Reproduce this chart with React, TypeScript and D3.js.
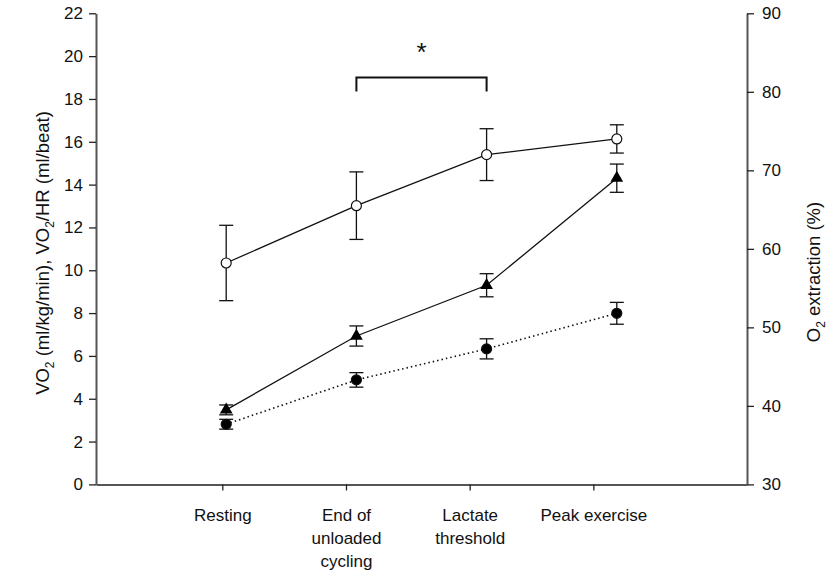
import React, { useRef, useEffect } from "react";
import * as d3 from "d3";

// Categories (x) and the SigmaPlot-style tick offsets used for their labels
const categories = [["Resting"], ["End of", "unloaded", "cycling"], ["Lactate", "threshold"], ["Peak exercise"]];
const categoryPos = [1, 2, 3, 4];
const tickPos = [0.97, 1.92, 2.87, 3.82];

// VO2 (ml/kg/min) - filled triangles, left axis
const vo2 = [3.48, 6.93, 9.3, 14.3];
const vo2Err = [0.23, 0.47, 0.54, 0.66];

// VO2/HR (ml/beat) - filled circles, dotted line, left axis
const vo2hr = [2.81, 4.88, 6.33, 7.99];
const vo2hrErr = [0.23, 0.34, 0.47, 0.51];

// O2 extraction (%) - open circles, right axis
const o2ext = [58.2, 65.5, 72.0, 74.0];
const o2extErr = [4.8, 4.3, 3.3, 1.8];

// Tick labels
const leftTicks = [0, 2, 4, 6, 8, 10, 12, 14, 16, 18, 20, 22];
const rightTicks = [30, 40, 50, 60, 70, 80, 90];

// Significance bracket between End of unloaded cycling and Lactate threshold
const bracketIdx = [1, 2];
const bracketTop = 19.0;
const bracketFoot = 18.35;

const W = 828, H = 581;
const FONT = "'Liberation Sans', Arial, sans-serif";

const App = () => {
  const svgRef = useRef(null);

  useEffect(() => {
    const svg = d3.select(svgRef.current);
    svg.selectAll("*").remove();

    const left = 96, right = 747, top = 13.3, bottom = 484.4;

    const x = d3.scaleLinear().domain([0, 5]).range([left, right]);
    const yL = d3.scaleLinear().domain([0, 22]).range([bottom, top]);
    const yR = d3.scaleLinear().domain([30, 90]).range([bottom, top]);

    const g = svg.append("g").style("font-family", FONT);

    // Axes
    const styleAxis = (sel) => {
      sel.select(".domain").attr("stroke", "#555").attr("stroke-width", 2);
      sel.selectAll(".tick line").attr("stroke", "#222").attr("stroke-width", 1.3);
      sel.selectAll(".tick text").attr("fill", "#111").style("font-size", "17px").style("font-family", FONT);
    };

    g.append("g")
      .attr("transform", `translate(${left},0)`)
      .call(d3.axisLeft(yL).tickValues(leftTicks).tickSize(7).tickSizeOuter(0).tickPadding(6))
      .call(styleAxis);

    g.append("g")
      .attr("transform", `translate(${right},0)`)
      .call(d3.axisRight(yR).tickValues(rightTicks).tickSize(7).tickSizeOuter(0).tickPadding(8))
      .call(styleAxis);

    const xAxis = g.append("g")
      .attr("transform", `translate(0,${bottom})`)
      .call(d3.axisBottom(x).tickValues(tickPos).tickSize(6).tickSizeOuter(0).tickFormat(() => ""))
      .call(styleAxis);

    // Multi-line category labels
    xAxis.selectAll(".tick").each(function (_, i) {
      const t = d3.select(this).append("text")
        .attr("fill", "#111")
        .attr("text-anchor", "middle")
        .style("font-size", "17px")
        .style("font-family", FONT)
        .attr("y", 37);
      categories[i].forEach((line, j) => {
        t.append("tspan").attr("x", 0).attr("dy", j === 0 ? 0 : 23).text(line);
      });
    });

    // Axis titles
    const lt = g.append("text")
      .attr("transform", `translate(49,253) rotate(-90)`)
      .attr("text-anchor", "middle")
      .attr("fill", "#111")
      .style("font-size", "18.5px");
    lt.append("tspan").text("VO");
    lt.append("tspan").attr("dy", 5).style("font-size", "12px").text("2");
    lt.append("tspan").attr("dy", -5).text(" (ml/kg/min), VO");
    lt.append("tspan").attr("dy", 5).style("font-size", "12px").text("2");
    lt.append("tspan").attr("dy", -5).text("/HR (ml/beat)");

    const rt = g.append("text")
      .attr("transform", `translate(820,272) rotate(-90)`)
      .attr("text-anchor", "middle")
      .attr("fill", "#111")
      .style("font-size", "18.5px");
    rt.append("tspan").text("O");
    rt.append("tspan").attr("dy", 5).style("font-size", "12px").text("2");
    rt.append("tspan").attr("dy", -5).text(" extraction (%)");

    // Series
    const series = [
      { vals: o2ext, err: o2extErr, y: yR, dash: null, marker: "open" },
      { vals: vo2, err: vo2Err, y: yL, dash: null, marker: "triangle" },
      { vals: vo2hr, err: vo2hrErr, y: yL, dash: "1.5,3", marker: "dot" },
    ];

    const capW = 7;
    series.forEach((s) => {
      // error bars
      s.vals.forEach((v, i) => {
        const cx = x(categoryPos[i]);
        const y1 = s.y(v + s.err[i]), y2 = s.y(v - s.err[i]);
        g.append("line").attr("x1", cx).attr("x2", cx).attr("y1", y1).attr("y2", y2)
          .attr("stroke", "#111").attr("stroke-width", 1.3);
        [y1, y2].forEach((yy) => g.append("line")
          .attr("x1", cx - capW).attr("x2", cx + capW).attr("y1", yy).attr("y2", yy)
          .attr("stroke", "#111").attr("stroke-width", 1.3));
      });
      // connecting line
      const line = d3.line().x((_, i) => x(categoryPos[i])).y((d) => s.y(d));
      g.append("path").datum(s.vals).attr("d", line)
        .attr("fill", "none").attr("stroke", "#111").attr("stroke-width", s.dash ? 1.6 : 1.3)
        .attr("stroke-dasharray", s.dash);
    });

    // Markers on top
    series.forEach((s) => {
      s.vals.forEach((v, i) => {
        const cx = x(categoryPos[i]), cy = s.y(v);
        if (s.marker === "triangle") {
          g.append("path").attr("d", d3.symbol(d3.symbolTriangle, 70)())
            .attr("transform", `translate(${cx},${cy})`).attr("fill", "#000");
        } else {
          g.append("circle").attr("cx", cx).attr("cy", cy).attr("r", 5)
            .attr("fill", s.marker === "open" ? "#fff" : "#000")
            .attr("stroke", "#111").attr("stroke-width", 1.2);
        }
      });
    });

    // Significance bracket
    const bx1 = x(categoryPos[bracketIdx[0]]), bx2 = x(categoryPos[bracketIdx[1]]);
    g.append("path")
      .attr("d", `M${bx1},${yL(bracketFoot)}V${yL(bracketTop)}H${bx2}V${yL(bracketFoot)}`)
      .attr("fill", "none").attr("stroke", "#111").attr("stroke-width", 2);
    g.append("text")
      .attr("x", (bx1 + bx2) / 2).attr("y", 61)
      .attr("text-anchor", "middle").attr("fill", "#111")
      .style("font-size", "26px").text("*");
  }, []);

  return (
    <svg ref={svgRef} width={W} height={H}
      style={{ position: "absolute", left: 0, top: 0, display: "block", background: "#fff" }} />
  );
};

export default App;
